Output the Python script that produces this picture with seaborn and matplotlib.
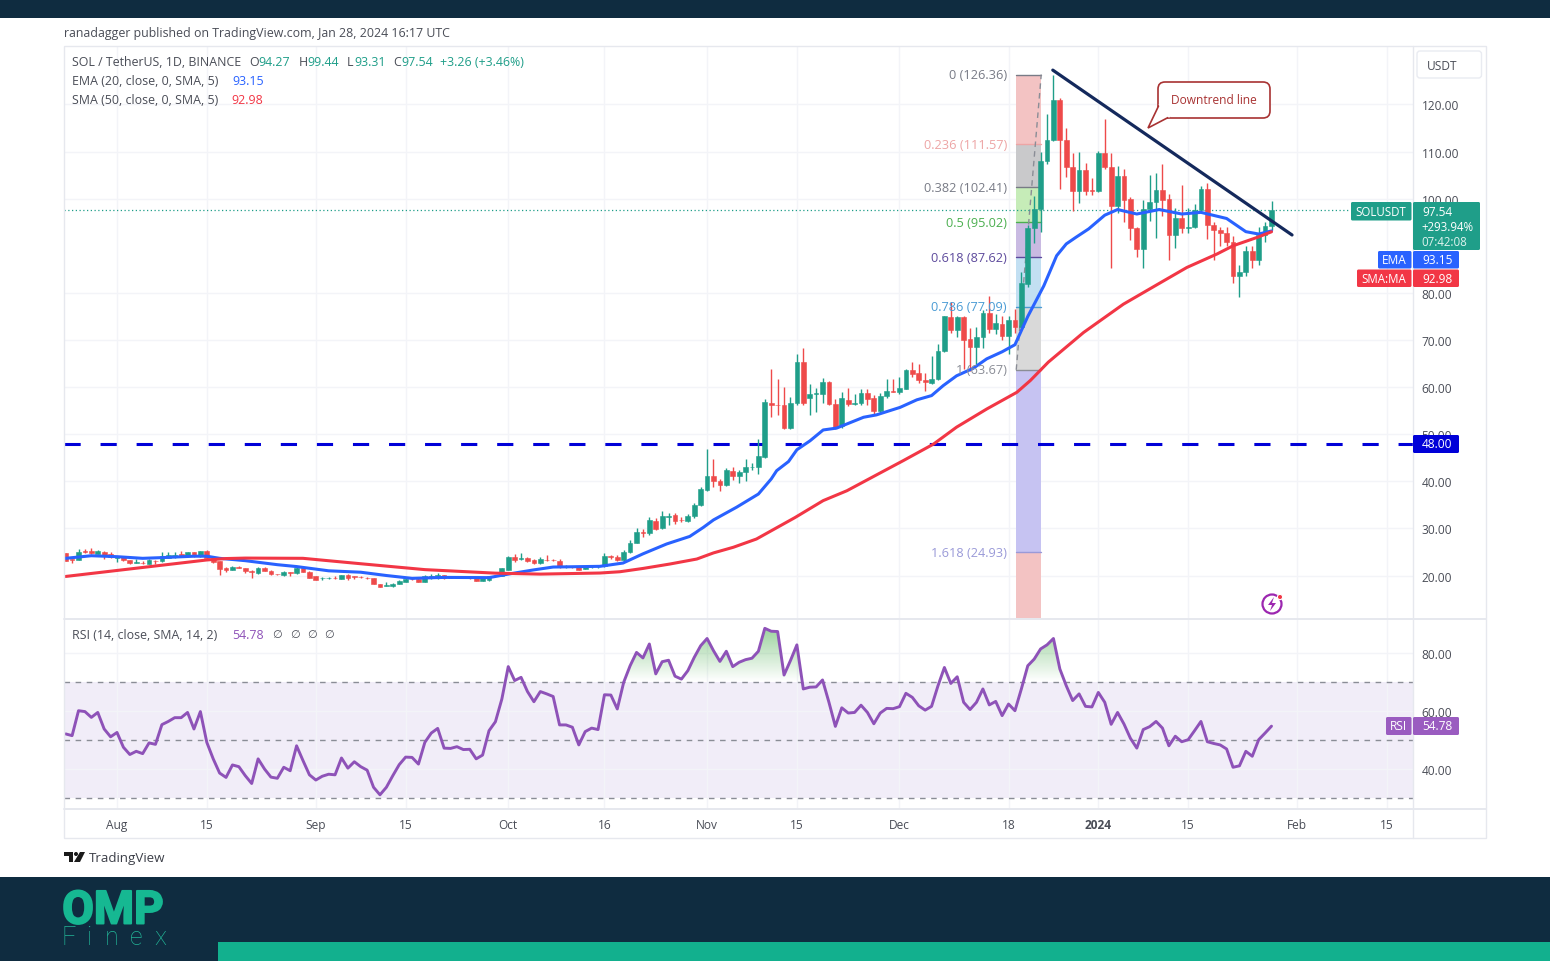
import matplotlib
matplotlib.use("Agg")
import matplotlib.patheffects as pe
import matplotlib.pyplot as plt
import numpy as np
import pandas as pd
import seaborn as sns
from matplotlib.patches import FancyBboxPatch, Polygon, Rectangle, Circle
from matplotlib.path import Path

# days counted from 1 Aug 2023, one candle a day
days = np.arange(-8, 181)

opens = [24.7, 23.5, 23.4, 25.2, 25.2, 24.6, 25.05, 24.6, 23.8, 23.9, 23.2, 22.65, 22.75, 22.5, 23.15, 23.0, 23.8, 23.9, 24.6, 24.2,
         24.9, 24.1, 25.1, 23.6, 23.0, 21.7, 21.2, 21.8, 21.6, 21.0, 20.5, 21.7, 21.0, 20.35, 20.1, 20.7, 20.5, 21.7, 20.8, 19.8,
         19.4, 19.45, 19.55, 19.3, 20.1, 19.8, 19.75, 19.5, 19.4, 18.1, 17.85, 17.7, 18.2, 18.7, 19.3, 19.3, 18.7, 19.4, 19.4, 20.1,
         19.5, 19.5, 19.55, 19.5, 19.5, 18.9, 19.0, 19.9,
         20.0, 21.2, 23.85, 23.5, 23.65, 23.2, 22.7, 23.3, 23.25, 23.0, 21.9, 22.0, 21.95, 21.4, 21.95, 21.95, 21.95, 24.05, 23.85, 23.3,
         24.9, 27.0, 29.3, 28.95, 31.65, 30.1, 32.5, 32.85, 31.8, 31.5, 32.7, 35.0, 38.2, 41.2, 40.1, 39.2, 42.25, 41.05, 42.05, 43.0,
         43.0, 45.2, 56.6, 56.2, 56.3, 51.3, 56.55, 65.4, 57.7, 58.6, 58.5, 61.1, 56.4, 51.7, 57.3, 56.4, 56.6, 58.75, 57.6, 54.85,
         58.05, 59.1, 58.9, 59.6, 63.6, 62.9, 61.5, 60.85, 61.7, 67.6, 74.8, 72.1, 74.8, 70.2, 68.6, 70.55, 75.65, 72.3, 73.4, 70.8,
         74.25, 72.8, 81.9, 93.7, 97.8, 107.9, 112.5, 121.0, 112.5, 106.8, 101.7, 106.1, 101.8, 101.6, 109.8, 106.8, 98.4, 104.9, 99.9, 93.7,
         89.3, 97.8, 99.2, 101.9, 99.9, 92.2, 95.8, 93.7, 94.0, 97.7, 102.0, 94.4, 93.4, 92.8, 90.9, 83.5, 84.4, 88.8, 86.9, 92.2, 94.27]
highs = [24.8, 23.6, 25.6, 25.6, 25.8, 25.5, 25.2, 25.0, 24.2, 24.0, 23.3, 23.5, 23.0, 23.6, 23.2, 24.9, 24.9, 24.9, 25.1, 25.0,
         25.0, 25.2, 25.4, 23.8, 23.1, 21.8, 22.0, 22.0, 21.7, 21.2, 21.8, 21.9, 21.1, 20.4, 20.9, 20.8, 22.0, 21.8, 20.9, 19.9,
         19.6, 19.7, 19.9, 20.2, 20.3, 20.0, 20.0, 19.7, 19.5, 18.2, 18.7, 18.5, 19.1, 19.5, 19.5, 19.4, 20.2, 20.3, 20.5, 20.2,
         19.7, 19.7, 19.7, 19.6, 19.6, 19.6, 19.9, 20.1,
         21.6, 24.2, 24.6, 24.8, 24.0, 23.4, 24.0, 24.4, 23.5, 23.4, 22.2, 22.1, 22.0, 22.0, 22.1, 22.1, 24.7, 24.4, 24.4, 25.5,
         27.6, 30.0, 29.9, 32.5, 32.2, 33.8, 33.3, 33.3, 32.4, 33.0, 35.5, 38.8, 46.9, 44.8, 40.4, 42.9, 43.0, 42.3, 44.8, 43.8,
         48.9, 57.4, 63.8, 61.7, 60.0, 57.8, 67.0, 68.2, 60.6, 59.8, 61.9, 61.3, 57.4, 59.0, 59.8, 58.6, 59.6, 59.5, 58.3, 58.8,
         61.7, 61.7, 62.1, 63.9, 65.3, 64.9, 63.0, 66.5, 69.2, 75.2, 78.0, 75.0, 75.0, 72.5, 72.7, 76.3, 79.4, 75.6, 75.0, 75.0,
         76.6, 84.5, 94.5, 100.5, 110.0, 118.0, 126.36, 121.4, 115.0, 109.8, 110.0, 107.5, 104.5, 110.1, 116.9, 109.7, 107.0, 106.2, 100.4, 94.0,
         99.7, 105.0, 105.4, 107.3, 101.1, 98.0, 102.9, 98.0, 98.9, 102.6, 103.4, 95.0, 94.0, 94.0, 92.0, 86.0, 90.0, 90.0, 94.0, 95.0, 99.44]
lows = [23.0, 22.7, 23.3, 24.8, 24.6, 24.5, 23.5, 23.7, 22.8, 23.0, 22.5, 22.6, 22.5, 22.4, 22.4, 22.9, 23.7, 23.8, 24.0, 24.1,
        24.0, 24.0, 23.5, 22.6, 20.1, 20.8, 21.1, 21.5, 20.5, 19.4, 20.4, 20.9, 20.2, 20.2, 20.0, 20.0, 20.4, 20.7, 19.4, 19.0,
        19.0, 19.2, 19.3, 19.2, 19.0, 19.2, 19.4, 19.2, 18.1, 17.5, 17.7, 17.6, 18.1, 18.6, 19.0, 18.6, 18.6, 19.3, 19.3, 19.3,
        19.4, 19.4, 19.4, 19.3, 18.8, 18.8, 18.9, 19.8,
        19.9, 21.1, 22.8, 23.3, 22.9, 22.5, 22.5, 23.0, 23.0, 21.6, 21.7, 21.7, 21.1, 21.3, 21.7, 21.7, 21.9, 23.5, 23.0, 23.0,
        24.7, 26.9, 28.1, 28.7, 29.6, 29.9, 30.8, 31.0, 31.4, 31.4, 32.3, 34.8, 37.9, 38.8, 38.0, 38.9, 40.2, 39.6, 40.0, 42.4,
        41.5, 45.0, 53.6, 54.0, 51.2, 51.0, 56.2, 56.1, 54.1, 54.7, 56.6, 56.3, 51.2, 51.3, 56.0, 56.3, 56.2, 56.1, 54.0, 54.6,
        57.7, 58.9, 58.5, 59.5, 62.2, 60.9, 59.2, 60.7, 61.6, 67.4, 71.4, 70.7, 63.9, 63.5, 64.8, 68.2, 71.5, 71.2, 70.0, 67.1,
        71.5, 72.5, 81.3, 90.7, 93.0, 107.3, 112.3, 102.0, 104.6, 97.4, 99.1, 100.7, 100.7, 101.4, 106.3, 85.2, 97.0, 95.0, 91.3, 87.7,
        85.2, 95.2, 91.7, 96.3, 87.0, 89.6, 92.8, 92.8, 93.7, 97.3, 91.5, 87.0, 90.0, 90.0, 82.0, 79.2, 83.5, 85.2, 86.0, 90.9, 93.31]
closes = [23.15, 23.2, 24.9, 25.05, 24.7, 25.2, 24.1, 23.9, 24.1, 23.2, 22.6, 22.8, 22.6, 23.3, 23.0, 24.2, 24.4, 24.4, 24.1, 24.9,
          24.1, 25.1, 23.7, 22.8, 21.4, 21.2, 21.9, 21.6, 20.9, 20.7, 21.7, 21.0, 20.3, 20.25, 20.8, 20.6, 21.6, 20.8, 19.55, 19.1,
          19.5, 19.5, 19.45, 20.1, 19.55, 19.7, 19.6, 19.4, 18.2, 17.6, 18.0, 18.3, 18.9, 19.3, 19.2, 18.7, 19.8, 19.8, 20.1, 19.4,
          19.55, 19.55, 19.5, 19.45, 18.9, 19.5, 19.8, 20.0,
          21.5, 23.9, 23.3, 23.8, 23.0, 22.7, 23.5, 23.2, 23.2, 21.95, 22.0, 21.9, 21.25, 21.95, 22.0, 22.0, 24.1, 23.9, 23.4, 24.9,
          27.0, 29.3, 29.0, 31.8, 29.9, 32.6, 32.7, 31.65, 31.7, 32.7, 35.0, 38.4, 41.2, 40.1, 39.2, 42.4, 41.05, 42.05, 43.0, 43.1,
          45.3, 56.8, 56.2, 56.1, 51.4, 56.6, 65.4, 56.55, 58.5, 58.7, 61.0, 56.4, 51.45, 57.6, 56.4, 56.55, 58.7, 57.5, 54.85, 58.2,
          59.1, 59.0, 59.75, 63.6, 62.8, 61.5, 61.0, 61.7, 67.6, 75.0, 72.1, 74.8, 70.0, 68.6, 70.55, 75.65, 72.3, 73.6, 70.8, 74.25,
          72.8, 82.1, 93.8, 97.8, 107.9, 112.5, 121.0, 112.5, 106.8, 101.7, 106.1, 101.7, 101.6, 109.8, 106.7, 98.4, 104.9, 99.8, 93.7, 89.3,
          97.8, 99.2, 101.9, 99.8, 92.2, 95.8, 93.7, 94.0, 97.7, 102.0, 94.4, 93.4, 92.7, 90.9, 83.5, 84.4, 88.8, 86.9, 92.2, 94.3, 97.54]

ema_days = [-8, -4, 0, 4, 7, 12, 14, 16, 20, 25, 28, 33, 38, 42, 46, 51, 58, 61, 65, 68, 75.3, 78.9, 82, 85.7, 89.3, 91.4, 93, 96.6, 100,
            102, 102.85, 104.7, 106, 108.05, 110.1, 112.2, 116.4, 118.4, 122.1, 124.7, 127, 128.8, 130.9, 133.5, 135.6, 138, 140, 142, 144.5,
            146.5, 148, 149.5, 151.5, 154, 156, 159, 162.5, 166, 169, 173, 176, 178, 180]
ema_values = [23.65, 24.2, 24.0, 23.65, 23.8, 24.1, 24.1, 23.65, 23.15, 22.3, 21.9, 21.0, 20.7, 20.0, 19.4, 19.6, 19.55, 20.3, 21.2, 21.8, 21.95, 22.65, 24.6, 26.7, 28.3, 30.2, 31.8, 34.5, 37.3,
              40.5, 42.26, 44.2, 46.7, 48.6, 50.9, 51.3, 53.6, 54.1, 55.7, 57.3, 58.2, 60.3, 62.4, 64.0, 66.0, 67.5, 69.0, 75.0, 81.5,
              87.9, 90.4, 91.8, 93.6, 96.5, 97.7, 96.75, 97.7, 96.75, 97.1, 95.8, 93.0, 92.5, 93.15]
sma_days = [-8, 14, 17, 20, 29, 38, 48, 59, 66, 75.3, 78.4, 82, 86.2, 90.4, 93, 96.1, 99.7, 102.6, 105.7, 110.1, 113.8, 118.4, 122.6, 127.3, 130.9, 135.6, 140.3,
            142.4, 145.2, 150.7, 156.9, 162.6, 166.8, 171.5, 174, 178, 180]
sma_values = [19.8, 23.3, 23.6, 23.7, 23.65, 22.5, 21.25, 20.5, 20.3, 20.53, 20.8, 21.5, 22.44, 23.5, 24.8, 26.0, 27.75, 29.95, 32.3, 35.9, 38.0, 41.35, 44.4, 47.9, 51.5, 55.35, 58.9,
              61.4, 65.3, 71.6, 77.6, 82.1, 85.4, 88.26, 90.0, 91.9, 92.98]

rsi_values = [52.1, 51.5, 60.1, 59.8, 57.8, 59.5, 53.8, 51.1, 52.6, 47.5, 45.0, 46.1, 45.3, 49.0, 48.5, 55.3, 56.4, 57.7, 57.7, 59.5,
              53.8, 59.8, 49.2, 43.5, 38.6, 37.1, 41.4, 40.8, 37.7, 35.0, 43.5, 40.0, 37.2, 36.8, 40.6, 39.4, 48.0, 42.9, 38.0, 36.2,
              37.5, 38.2, 38.0, 43.8, 40.3, 42.5, 40.8, 39.6, 33.7, 31.1, 33.7, 37.7, 41.5, 44.1, 44.0, 41.7, 49.2, 52.4, 54.0, 47.2,
              47.1, 47.7, 46.7, 46.8, 43.5, 44.8, 53.2, 56.3, 64.1, 75.3, 70.5, 71.6, 66.7, 63.2, 66.7, 65.9, 65.0, 55.2, 55.2, 54.4,
              48.3, 52.9, 54.1, 53.6, 65.6, 65.5, 60.7, 69.9, 75.6, 80.2, 78.3, 83.1, 72.8, 77.0, 77.5, 72.0, 71.0, 73.9, 78.5, 82.5,
              85.0, 80.8, 77.1, 80.6, 75.3, 76.8, 77.7, 78.2, 80.6, 88.5, 87.5, 87.4, 72.4, 77.4, 82.8, 67.6, 68.2, 68.3, 70.7, 63.0,
              54.7, 61.1, 59.3, 59.5, 62.0, 59.5, 55.6, 59.3, 60.9, 60.8, 61.5, 66.1, 64.7, 61.8, 60.3, 61.6, 68.7, 75.0, 69.5, 71.8,
              63.0, 60.5, 63.0, 67.6, 62.1, 63.3, 58.4, 62.4, 60.1, 67.6, 75.6, 77.9, 81.4, 82.8, 85.0, 74.5, 68.7, 63.6, 65.9, 61.6,
              61.4, 66.4, 63.0, 55.4, 59.5, 55.5, 50.6, 47.2, 53.6, 54.6, 56.4, 54.1, 48.0, 51.3, 49.4, 50.1, 53.2, 56.4, 49.4, 48.8,
              48.3, 46.9, 40.6, 41.1, 46.1, 44.4, 50.1, 52.4, 54.78]

fib_labels = ["0 (126.36)", "0.236 (111.57)", "0.382 (102.41)", "0.5 (95.02)", "0.618 (87.62)", "0.786 (77.09)", "1 (63.67)", "1.618 (24.93)"]
fib_prices = [126.36, 111.57, 102.41, 95.02, 87.62, 77.09, 63.67, 24.93]
fib_text_colors = ["#787b86", "#eda5a5", "#787b86", "#4caf50", "#5d4a9c", "#4a9bd4", "#8a8d96", "#9a9ad8"]
fib_fills = ["#f3c3c3", "#c9c9cb", "#c6ecb8", "#c9bae2", "#c2dff2", "#d9d9d9", "#c6c3f2", "#f3c3c3"]

tick_days = [0, 14, 31, 45, 61, 76, 92, 106, 122, 139, 153, 167, 184, 198]
tick_labels = ["Aug", "15", "Sep", "15", "Oct", "16", "Nov", "15", "Dec", "18", "2024", "15", "Feb", "15"]
price_ticks = [20, 30, 40, 50, 60, 70, 80, 100, 110, 120]
rsi_ticks = [40, 60, 80]

GREEN = "#1f9e89"
RED = "#ee4a4a"
BLUE = "#2962ff"
SMA_RED = "#f23645"
PURPLE = "#8e52b8"
NAVY = "#0f2c40"
TEAL = "#12b08e"
GRID = "#f3f4f8"
BORDER = "#e6e8ee"
INK = "#4a4d57"

sns.set_theme(style="white")
plt.rcParams["font.family"] = ["Open Sans", "DejaVu Sans"]
plt.rcParams["axes.unicode_minus"] = False

W, H = 1550, 962
FS = 8.6
LS = 8.9
fig = plt.figure(figsize=(W / 100, H / 100), dpi=100, facecolor="white")


def px_axes(x0, y0, x1, y1, **kw):
    return fig.add_axes([x0 / W, 1 - y1 / H, (x1 - x0) / W, (y1 - y0) / H], **kw)


ax = px_axes(64, 47, 1413, 619)
ax_rsi = px_axes(64, 620, 1413, 810)
over = px_axes(0, 0, W, H, zorder=10)
over.set_xlim(0, W)
over.set_ylim(H, 0)
over.axis("off")
over.patch.set_alpha(0)

xlim = (-8.263, 202.06)
for a in (ax, ax_rsi):
    a.set_xlim(*xlim)
    a.set_xticks(tick_days)
    a.grid(True, color=GRID, lw=1)
    a.set_axisbelow(True)
    for s in a.spines.values():
        s.set_visible(False)
    a.yaxis.tick_right()
    a.tick_params(axis="y", length=0, pad=6.3, labelsize=FS, labelcolor=INK)
ax.set_ylim(10.98, 132.42)
ax.set_yticks(price_ticks)
ax.set_yticklabels([f"{t:.2f}" for t in price_ticks])
ax.tick_params(axis="x", length=0, labelbottom=False)

# fib block
fib_x0, fib_x1 = 140.2, 144.1
edges = fib_prices + [ax.get_ylim()[0]]
for i in range(len(fib_prices)):
    ax.fill_between([fib_x0, fib_x1], edges[i + 1], edges[i], color=fib_fills[i], lw=0, zorder=1)
    ax.plot([fib_x0, fib_x1], [fib_prices[i], fib_prices[i]], color=fib_text_colors[i], lw=1, zorder=1.5)
ax.plot([fib_x0, fib_x1], [fib_prices[6], fib_prices[0]], color="#8a8d96", lw=1, ls=(0, (4, 3)), zorder=1.5)

# support line at 48
ax.plot(xlim, [48, 48], color="#0000d8", lw=2.2, dashes=(5.3, 6.5), dash_capstyle="butt", zorder=2)

# candles
o, h, l, c = map(np.array, (opens, highs, lows, closes))
candle_colors = np.where(c >= o, GREEN, RED)
ax.vlines(days, l, h, colors=candle_colors, lw=1, zorder=3)
ax.bar(days, np.abs(c - o), bottom=np.minimum(o, c), width=0.74, color=candle_colors,
       edgecolor=candle_colors, linewidth=0.4, zorder=3)

sns.lineplot(x=ema_days, y=ema_values, ax=ax, color=BLUE, linewidth=2.2, estimator=None, zorder=4)
sns.lineplot(x=sma_days, y=sma_values, ax=ax, color=SMA_RED, linewidth=2.2, estimator=None, zorder=4)

# downtrend line and last-price line
ax.plot([145.9, 183.2], [127.3, 92.3], color="#14295c", lw=2.3, zorder=5, solid_capstyle="round")
ax.plot([xlim[0], 192.0], [closes[-1], closes[-1]], color=GREEN, lw=0.9, ls=(0, (1, 2)), zorder=2)

# rsi pane
rsi_df = pd.DataFrame({"day": days, "rsi": rsi_values})
ax_rsi.set_ylim(26.21, 91.72)
ax_rsi.set_yticks(rsi_ticks)
ax_rsi.set_yticklabels([f"{t:.2f}" for t in rsi_ticks])
ax_rsi.axhspan(30, 70, color="#7e57c2", alpha=0.1, lw=0, zorder=0.5)
for lvl in (30, 50, 70):
    ax_rsi.axhline(lvl, color="#8a8d96", lw=1, ls=(0, (4, 4)), zorder=1)
fill = ax_rsi.fill_between(rsi_df["day"], rsi_df["rsi"], 70, where=rsi_df["rsi"] > 70, interpolate=True, color="none", lw=0)
grad = np.zeros((64, 1, 4))
grad[..., 0], grad[..., 1], grad[..., 2] = 0.30, 0.69, 0.31
grad[:, 0, 3] = np.linspace(0.6, 0.0, 64)
im = ax_rsi.imshow(grad, extent=[xlim[0], xlim[1], 70, 90], origin="upper", aspect="auto", zorder=1.5)
im.set_clip_path(Path.make_compound_path(*fill.get_paths()), ax_rsi.transData)
sns.lineplot(data=rsi_df, x="day", y="rsi", ax=ax_rsi, color=PURPLE, linewidth=2.1, estimator=None, zorder=3)
ax_rsi.set_xlim(*xlim)
ax_rsi.set_ylim(26.21, 91.72)
ax_rsi.set_xlabel("")
ax_rsi.set_ylabel("")
ax.set_xlabel("")
ax.set_ylabel("")
ax_rsi.set_xticklabels(tick_labels)
ax_rsi.tick_params(axis="x", length=0, pad=6.5, labelsize=FS, labelcolor=INK)
for lab in ax_rsi.get_xticklabels():
    if lab.get_text() == "2024":
        lab.set_fontweight("bold")


def put(x, y, s, color=INK, size=FS, ha="left", **kw):
    return over.text(x, y, s, color=color, fontsize=size, ha=ha, va="center", **kw)


def box(x0, y0, x1, y1, color):
    over.add_patch(FancyBboxPatch((x0 + 1, y0 + 1), x1 - x0 - 2, y1 - y0 - 2, boxstyle="round,pad=1,rounding_size=1.5",
                                  fc=color, ec="none", zorder=5))


# page bands
over.add_patch(Rectangle((0, 0), W, 18.5, fc=NAVY, ec="none"))
over.add_patch(Rectangle((0, 877.5), W, 85, fc=NAVY, ec="none"))
over.add_patch(Rectangle((218, 942.5), W - 218, 20, fc=TEAL, ec="none"))

# frame of the chart
over.add_patch(Rectangle((64, 47), 1422, 792, fc="none", ec=BORDER, lw=1))
over.plot([1413, 1413], [47, 839], color=BORDER, lw=1)
over.plot([64, 1486], [619.5, 619.5], color=BORDER, lw=1.4)
over.plot([64, 1486], [810, 810], color=BORDER, lw=1.4)

put(64, 33.5, "ranadagger published on TradingView.com, Jan 28, 2024 16:17 UTC", size=LS)

# legend rows
put(72, 63, "SOL / TetherUS, 1D, BINANCE", size=LS)
for x, s, col in [(249, "O", INK), (258, "94.27", GREEN), (299, "H", INK), (307, "99.44", GREEN), (347, "L", INK), (354, "93.31", GREEN),
                  (393, "C", INK), (401, "97.54", GREEN), (440, "+3.26 (+3.46%)", GREEN)]:
    put(x, 63, s, color=col, size=LS)
put(72, 81.5, "EMA (20, close, 0, SMA, 5)", size=LS)
put(232, 81.5, "93.15", color=BLUE, size=LS)
put(72, 100, "SMA (50, close, 0, SMA, 5)", size=LS)
put(231, 100, "92.98", color=SMA_RED, size=LS)
put(72, 635.5, "RSI (14, close, SMA, 14, 2)", size=LS)
put(232, 635.5, "54.78", color=PURPLE, size=LS)
for x in (272, 290, 307, 324):
    put(x, 635.5, "∅", size=8)

# fib labels sit over the candles
fib_pos = ax.transData
for lab, price, col in zip(fib_labels, fib_prices, fib_text_colors):
    y_px = H - fib_pos.transform((0, price))[1]
    put(1007, y_px, lab, color=col, ha="right", size=9.2)

# callout
over.add_patch(FancyBboxPatch((1163, 88), 102, 26, boxstyle="round,pad=5,rounding_size=7", fc="white", ec="#a83232", lw=1.2, zorder=4))
over.add_patch(Polygon([(1159.5, 105), (1148, 129), (1170, 117.5)], closed=False, fc="white", ec="#a83232", lw=1.2, zorder=5))
over.plot([1160, 1169], [105.5, 117.2], color="white", lw=2, zorder=6)
put(1214, 100, "Downtrend line", color="#a83232", ha="center", zorder=7)

# USDT button
over.add_patch(FancyBboxPatch((1419, 54), 60.5, 23, boxstyle="round,pad=2,rounding_size=3", fc="white", ec="#e9ebf1", lw=1))
put(1427, 66, "USDT")

# axis tags
box(1351, 203, 1411.5, 221.5, GREEN)
put(1381, 212, "SOLUSDT", color="white", ha="center", zorder=6, size=8.3)
box(1413, 203, 1480, 251, GREEN)
put(1422, 212, "97.54", color="white", zorder=6)
put(1421, 227.5, "+293.94%", color="white", zorder=6, size=8.3)
put(1421, 242, "07:42:08", color="#dff3ee", zorder=6, size=8.3)
box(1378, 252, 1411.5, 269.5, BLUE)
put(1394, 261, "EMA", color="white", ha="center", zorder=6)
box(1413, 252, 1459, 269.5, BLUE)
put(1422, 261, "93.15", color="white", zorder=6)
box(1357, 270.5, 1411.5, 288, SMA_RED)
put(1384, 279.5, "SMA:MA", color="white", ha="center", zorder=6, size=8.3)
box(1413, 270.5, 1459, 288, SMA_RED)
put(1422, 279.5, "92.98", color="white", zorder=6)
box(1413, 436, 1459, 454, "#0000d8")
put(1422, 445, "48.00", color="white", zorder=6)
box(1386, 718, 1411.5, 736, "#9a5cc0")
put(1398, 727, "RSI", color="white", ha="center", zorder=6)
box(1413, 718, 1459, 736, "#9a5cc0")
put(1422, 727, "54.78", color="white", zorder=6)

# news icon
over.add_patch(Circle((1272, 605), 9.5, fc="white", ec="#9c27b0", lw=1.6, zorder=3))
over.add_patch(Polygon([(1274, 598), (1268, 606), (1272, 606), (1270, 612), (1276, 604), (1272, 604)], fc="#9c27b0", ec="none", zorder=4))
over.add_patch(Circle((1280, 598), 2.6, fc="#f23645", ec="white", lw=0.8, zorder=5))

# TradingView mark
over.add_patch(Polygon([(64, 853), (73, 853), (73, 863), (69, 863), (69, 857), (64, 857)], fc="#1a1a1a", ec="none"))
over.add_patch(Circle((76, 855), 2, fc="#1a1a1a", ec="none"))
over.add_patch(Polygon([(80, 853), (85, 853), (80, 863), (74, 863)], fc="#1a1a1a", ec="none"))
put(89, 858.5, "TradingView", size=9.6, color="#3c3f48")

# logo
logo = over.text(113, 911.5, "OMP", color="#16b892", fontsize=33, ha="center", va="center", fontfamily="Roboto", fontweight="bold")
logo.set_path_effects([pe.withStroke(linewidth=1.4, foreground="#16b892")])
for x, s in [(62, "F"), (86, "i"), (105, "n"), (130, "e"), (154, "x")]:
    over.text(x, 938.5, s, color="#22b597", fontsize=18, ha="left", va="center", fontfamily="Roboto", fontweight="light")

fig.savefig("out.png", dpi=100, facecolor="white")
